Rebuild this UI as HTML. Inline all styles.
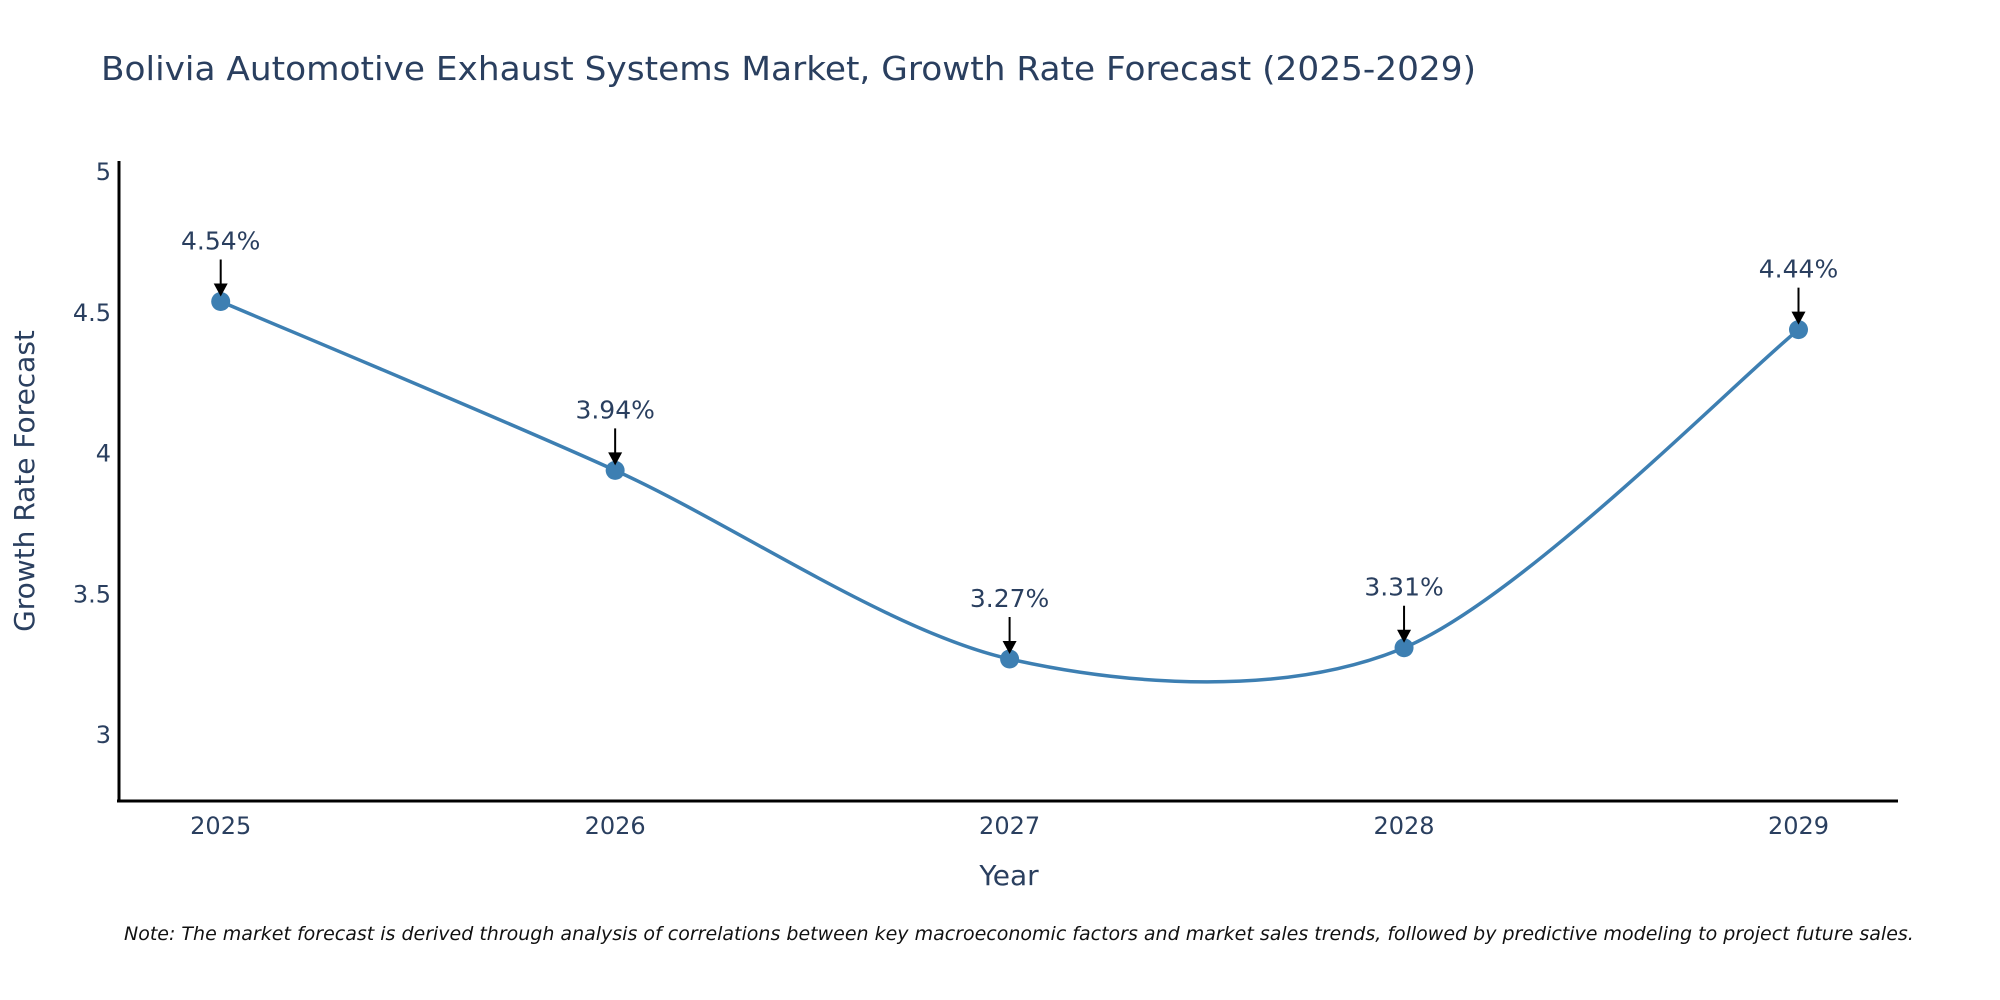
<!DOCTYPE html>
<html><head><meta charset="utf-8"><style>
html,body{margin:0;padding:0;background:#fff;}
svg{display:block;font-family:"DejaVu Sans","Liberation Sans",sans-serif;}
</style></head><body>
<svg id="chart" width="2000" height="1000" viewBox="0 0 2000 1000">
<text x="101" y="80" font-size="33" fill="#2a3f5f" textLength="1375" lengthAdjust="spacingAndGlyphs">Bolivia Automotive Exhaust Systems Market, Growth Rate Forecast (2025-2029)</text>
<g id="yticks"></g>
<g id="xticks"></g>
<line x1="119" y1="161" x2="119" y2="802" stroke="#000" stroke-width="3"/>
<line x1="117" y1="801" x2="1898" y2="801" stroke="#000" stroke-width="3"/>
<text transform="translate(34,481) rotate(-90)" text-anchor="middle" font-size="28" fill="#2a3f5f">Growth Rate Forecast</text>
<text x="1009" y="885" text-anchor="middle" font-size="28" fill="#2a3f5f">Year</text>
<g id="series"></g>
<g id="annots"></g>
<text x="124" y="940" font-size="19" font-style="italic" fill="#111">Note: The market forecast is derived through analysis of correlations between key macroeconomic factors and market sales trends, followed by predictive modeling to project future sales.</text>
</svg>
<script>
const categories = [2025, 2026, 2027, 2028, 2029];
const values = [4.54, 3.94, 3.27, 3.31, 4.44];
const valueLabels = ["4.54%", "3.94%", "3.27%", "3.31%", "4.44%"];
const yTicks = [3, 3.5, 4, 4.5, 5];
const yTickLabels = ["3", "3.5", "4", "4.5", "5"];

const NS = "http://www.w3.org/2000/svg";
function xs(c){ return 220.7 + (c - 2025) * 394.45; }
function ys(v){ return 735 - (v - 3) * 281.5; }
function mk(tag, attrs, parent){ const e = document.createElementNS(NS, tag); for (const k in attrs) e.setAttribute(k, attrs[k]); parent.appendChild(e); return e; }

const yg = document.getElementById('yticks');
yTicks.forEach((t, i) => {
  const el = mk('text', {x: 111, y: ys(t) + 8, 'text-anchor': 'end', 'font-size': 24, fill: '#2a3f5f'}, yg);
  
  
  el.textContent = yTickLabels[i];
});
const xg = document.getElementById('xticks');
categories.forEach(c => {
  const el = mk('text', {x: xs(c), y: 834, 'text-anchor': 'middle', 'font-size': 24, fill: '#2a3f5f'}, xg);
  
  
  el.textContent = String(c);
});

const pts = categories.map((c, i) => [xs(c), ys(values[i])]);
let d = `M${pts[0][0]},${pts[0][1]}`;
const s = 0.15;
for (let i = 0; i < pts.length - 1; i++) {
  const p0 = pts[Math.max(0, i - 1)], p1 = pts[i], p2 = pts[i + 1], p3 = pts[Math.min(pts.length - 1, i + 2)];
  const c1 = [p1[0] + (p2[0] - p0[0]) * s, p1[1] + (p2[1] - p0[1]) * s];
  const c2 = [p2[0] - (p3[0] - p1[0]) * s, p2[1] - (p3[1] - p1[1]) * s];
  d += ` C${c1[0]},${c1[1]} ${c2[0]},${c2[1]} ${p2[0]},${p2[1]}`;
}
const sg = document.getElementById('series');
const line = mk('path', {d: d, fill: 'none', stroke: '#3d7fb2', 'stroke-width': 3.5}, sg);


pts.forEach(p => {
  const m = mk('circle', {cx: p[0], cy: p[1], r: 9.5, fill: '#3d7fb2'}, sg);
  
  
});

const ag = document.getElementById('annots');
pts.forEach((p, i) => {
  const a = mk('line', {x1: p[0], y1: p[1] - 42, x2: p[0], y2: p[1] - 16, stroke: '#000', 'stroke-width': 2}, ag);
  
  
  const h = mk('polygon', {points: `${p[0]-7},${p[1]-18} ${p[0]+7},${p[1]-18} ${p[0]},${p[1]-5}`, fill: '#000'}, ag);
  
  
  const t = mk('text', {x: p[0], y: p[1] - 52, 'text-anchor': 'middle', 'font-size': 25, fill: '#2a3f5f'}, ag);
  
  
  t.textContent = valueLabels[i];
});
</script>
</body></html>
